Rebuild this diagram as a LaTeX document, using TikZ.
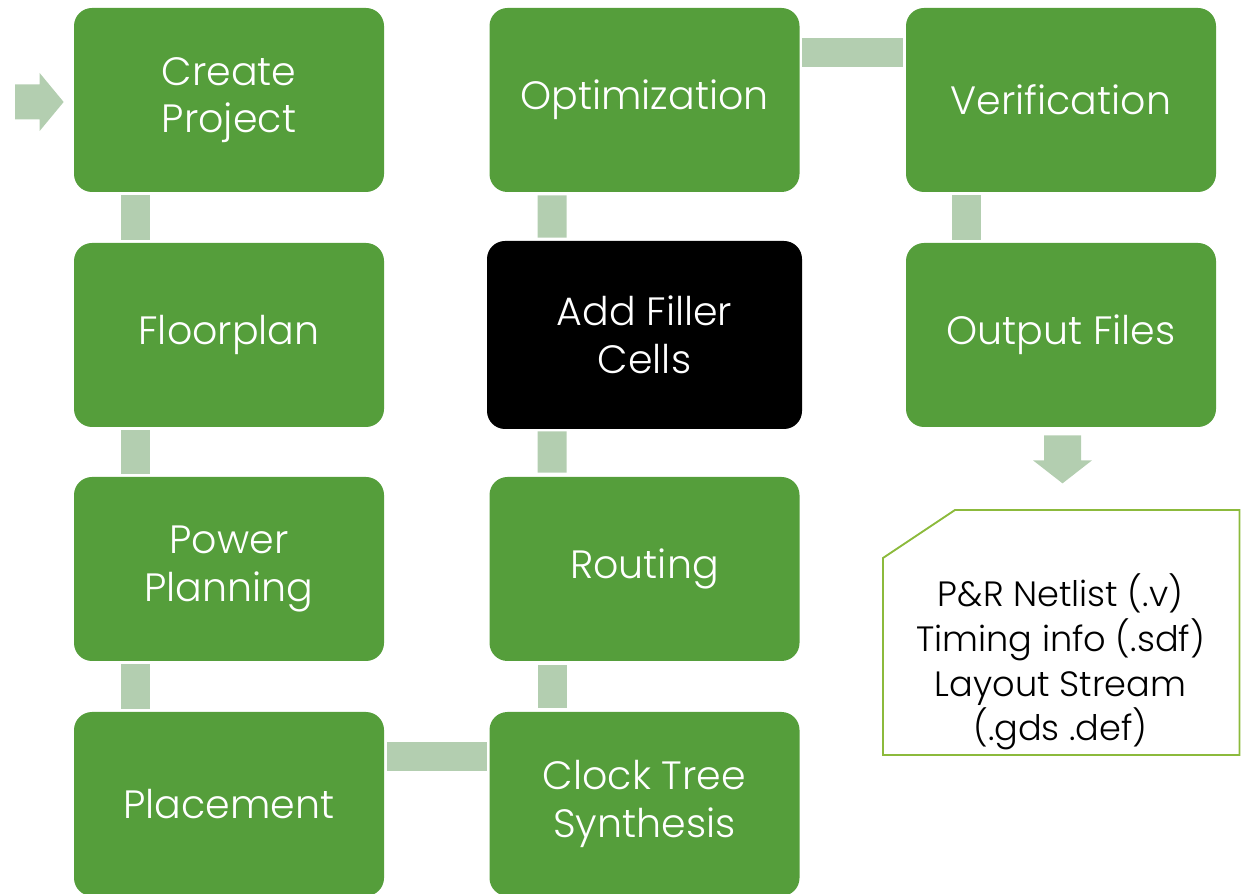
\documentclass[tikz,border=0pt]{standalone}
\usepackage{fontspec}
\setmainfont{Poppins}[UprightFont=* Light]
\usetikzlibrary{positioning,calc}
\definecolor{boxgreen}{HTML}{559E3B}
\definecolor{linkgreen}{HTML}{B3CEB0}
\definecolor{notegreen}{HTML}{8CBA3C}

\begin{document}
\begin{tikzpicture}[font=\fontsize{22.5}{27}\selectfont,
stage/.style={fill=boxgreen,text=white,rounded corners=0.36cm,align=center,minimum width=6.2cm,minimum height=3.68cm,inner sep=2pt},
link/.style={draw=linkgreen,line width=0.58cm},
notetext/.style={align=center,font=\fontsize{20}{25.5}\selectfont,inner sep=0pt}]
\useasboundingbox (0,0) rectangle (24.82,-17.88);
\node[stage] (create) at (4.58,-2.0) {Create\\Project};
\node[stage] (floor) at (4.58,-6.7) {Floorplan};
\node[stage] (power) at (4.58,-11.38) {Power\\Planning};
\node[stage] (place) at (4.58,-16.08) {Placement};
\node[stage] (opt) at (12.89,-2.0) {Optimization};
\node[stage,fill=black,minimum width=6.3cm,minimum height=3.76cm] (fill) at (12.89,-6.7) {Add Filler\\Cells};
\node[stage] (route) at (12.89,-11.38) {Routing};
\node[stage] (cts) at (12.89,-16.08) {Clock Tree\\Synthesis};
\node[stage] (verif) at (21.22,-2.0) {Verification};
\node[stage] (out) at (21.22,-6.7) {Output Files};
\node[notetext] (files) at (21.21,-13.24) {P\&R Netlist (.v)\\Timing info (.sdf)\\Layout Stream\\(.gds .def)};
% connectors
\draw[link] ($(create.south west)+(1.23,-0.05)$) -- ($(floor.north west)+(1.23,0.05)$);
\draw[link] ($(floor.south west)+(1.23,-0.05)$) -- ($(power.north west)+(1.23,0.05)$);
\draw[link] ($(power.south west)+(1.23,-0.05)$) -- ($(place.north west)+(1.23,0.05)$);
\draw[link] ($(place.north east)+(0.06,-0.89)$) -- ($(cts.north west)+(-0.04,-0.89)$);
\draw[link] ($(cts.north west)+(1.26,0.08)$) -- ($(route.south west)+(1.26,-0.08)$);
\draw[link] ($(route.north west)+(1.26,0.08)$) -- ($(fill.south west)+(1.31,-0.04)$);
\draw[link] ($(fill.north west)+(1.31,0.06)$) -- ($(opt.south west)+(1.26,-0.06)$);
\draw[link] ($(opt.north east)+(0.04,-0.89)$) -- ($(verif.north west)+(-0.06,-0.89)$);
\draw[link] ($(verif.south west)+(1.22,-0.06)$) -- ($(out.north west)+(1.22,0.06)$);
% entry arrow
\coordinate (in) at ($(create.west)+(-0.2,-0.04)$);
\fill[linkgreen] (in) -- ++(-0.48,0.58) -- ++(0,-0.23) -- ++(-0.49,0) -- ++(0,-0.7) -- ++(0.49,0) -- ++(0,-0.23) -- cycle;
% arrow to files
\coordinate (down) at ($(out.south)+(0.03,-1.12)$);
\fill[linkgreen] (down) -- ++(-0.59,0.46) -- ++(0.22,0) -- ++(0,0.5) -- ++(0.74,0) -- ++(0,-0.5) -- ++(0.22,0) -- cycle;
% note outline
\draw[notegreen,line width=1.1pt] (17.66,-15.1) -- (17.66,-11.16) -- (19.1,-10.2) -- (24.79,-10.2) -- (24.79,-15.1) -- cycle;
\end{tikzpicture}
\end{document}
